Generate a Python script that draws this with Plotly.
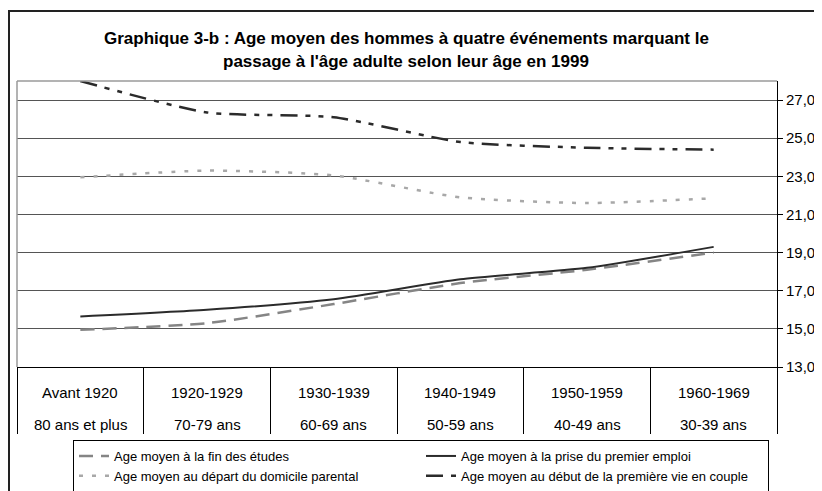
import plotly.graph_objects as go

categories = ["Avant 1920", "1920-1929", "1930-1939", "1940-1949", "1950-1959", "1960-1969"]
age_labels = ["80 ans et plus", "70-79 ans", "60-69 ans", "50-59 ans", "40-49 ans", "30-39 ans"]

fin_etudes = [14.95, 15.3, 16.3, 17.4, 18.1, 19.0]
premier_emploi = [15.65, 16.0, 16.55, 17.6, 18.2, 19.3]
depart_domicile = [22.95, 23.3, 23.05, 21.9, 21.6, 21.85]
vie_couple = [28.0, 26.35, 26.1, 24.8, 24.5, 24.4]

series_names = [
    "Age moyen à la fin des études",
    "Age moyen à la prise du premier emploi",
    "Age moyen au départ du domicile parental",
    "Age moyen au début de la première vie en couple",
]

FONT = "Liberation Sans, Arial, sans-serif"

# The page body has an 8px margin, so the figure is sized to the visible area.
W, H = 814, 483
PL, PR, PT, PB = 17, 777, 81, 367   # plot area in page pixels
OFF = 8
PW, PH = PR - PL, PB - PT


def px(x):
    return (x - PL) / PW


def py(y):
    return (PB - y) / PH


fig = go.Figure()
styles = [
    (fin_etudes, dict(color="#858585", width=2.5, dash="14px,8px")),
    (premier_emploi, dict(color="#2b2b2b", width=2, dash="solid")),
    (depart_domicile, dict(color="#a8a8a8", width=2.5, dash="4px,9px")),
    (vie_couple, dict(color="#2b2b2b", width=2.5, dash="17px,8px,5px,8px,5px,8px")),
]
for name, (vals, ln) in zip(series_names, styles):
    fig.add_trace(go.Scatter(
        x=categories, y=vals, mode="lines", name=name,
        line=dict(shape="spline", smoothing=0.6, **ln),
    ))

annotations = []
for c, a in zip(categories, age_labels):
    annotations.append(dict(x=c, y=0, xref="x", yref="paper", text=c, showarrow=False,
                            yanchor="middle", yshift=-25, font=dict(size=15, color="black", family=FONT)))
    annotations.append(dict(x=c, y=0, xref="x", yref="paper", text=a, showarrow=False,
                            yanchor="middle", yshift=-57, font=dict(size=15, color="black", family=FONT)))

title_l1 = "Graphique 3-b : Age moyen des hommes à quatre événements marquant le"
title_l2 = "passage à l'âge adulte selon leur âge en 1999"
annotations.append(dict(x=px(406), y=py(39), xref="paper", yref="paper", text="<b>" + title_l1 + "</b>",
                        showarrow=False, xanchor="center", yanchor="middle", font=dict(size=17, color="black", family=FONT)))
annotations.append(dict(x=px(406), y=py(62), xref="paper", yref="paper", text="<b>" + title_l2 + "</b>",
                        showarrow=False, xanchor="center", yanchor="middle", font=dict(size=17, color="black", family=FONT)))

shapes = [
    # outer frame
    dict(type="rect", xref="paper", yref="paper", x0=px(9), x1=px(840),
         y0=py(520), y1=py(11), line=dict(color="#222222", width=2), layer="below"),
    # plot area top and left border
    dict(type="line", xref="paper", yref="paper", x0=0, x1=1, y0=1, y1=1, line=dict(color="#9a9a9a", width=1.5)),
    dict(type="line", xref="paper", yref="paper", x0=0, x1=0, y0=0, y1=1, line=dict(color="#9a9a9a", width=1.5)),
]

fig.update_layout(
    width=W, height=H,
    margin=dict(l=PL - OFF, r=W - (PR - OFF), t=PT - OFF, b=H - (PB - OFF), pad=0, autoexpand=False),
    paper_bgcolor="white", plot_bgcolor="white",
    font=dict(family=FONT, color="black"),
    separators=", ",
    showlegend=True,
    legend=dict(
        orientation="h", x=px(73), y=py(440), xanchor="left", yanchor="top",
        entrywidth=302, entrywidthmode="pixels", itemwidth=30,
        bordercolor="black", borderwidth=1, bgcolor="white",
        font=dict(size=13, color="black", family=FONT),
        tracegroupgap=0,
    ),
    xaxis=dict(
        type="category", range=[-0.5, 5.5], showticklabels=False, tickson="boundaries",
        ticks="outside", ticklen=66, tickcolor="black", tickwidth=1,
        showline=True, linecolor="black", linewidth=1, showgrid=False, zeroline=False, fixedrange=True,
        automargin=False,
    ),
    yaxis=dict(
        side="right", range=[13, 28], tick0=13, dtick=2, tickformat=".1f",
        ticks="outside", ticklen=5, tickcolor="black",
        showline=True, linecolor="black", linewidth=1,
        showgrid=True, gridcolor="#555555", gridwidth=1, zeroline=False,
        tickfont=dict(size=15, color="black", family=FONT), automargin=False,
    ),
    annotations=annotations,
    shapes=shapes,
)

fig.write_html("out.html")
